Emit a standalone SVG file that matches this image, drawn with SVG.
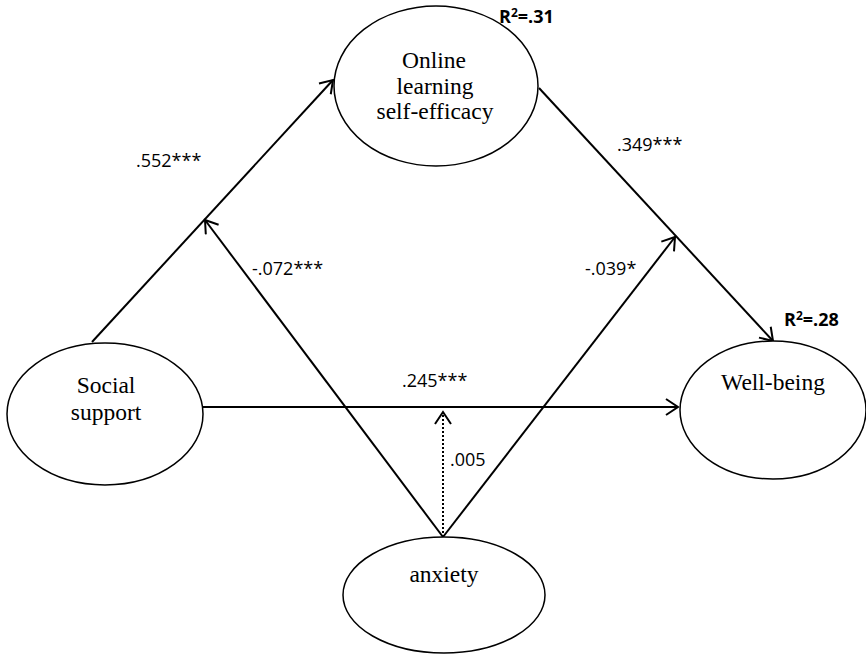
<svg xmlns="http://www.w3.org/2000/svg" width="866" height="656" viewBox="0 0 866 656">
<style>
.node ellipse{fill:#fff;stroke:#000;stroke-width:1.5}
.nt{font-family:"Liberation Serif","Times New Roman",serif;font-size:23.5px;fill:#000;text-anchor:middle}
.lbl{font-family:"Open Sans","Liberation Sans",Arial,sans-serif;font-size:18px;fill:#000}
.r2{font-family:"Open Sans","Liberation Sans",Arial,sans-serif;font-size:18px;font-weight:bold;fill:#000}
.edge{stroke:#000;stroke-width:2;fill:none}
.dot{stroke:#000;stroke-width:2;fill:none;stroke-dasharray:2 2}
</style>
<defs>
<marker id="arr" markerWidth="16" markerHeight="18" refX="13" refY="9" orient="auto" markerUnits="userSpaceOnUse">
<path d="M1,1 L13,9 L1,17" fill="none" stroke="#000" stroke-width="2"/>
</marker>
</defs>
<rect width="866" height="656" fill="#fff"/>
<g id="connectors">
<path class="edge" d="M92,342 L333,80" marker-end="url(#arr)"/>
<path class="edge" d="M539,88 L773,341" marker-end="url(#arr)"/>
<path class="edge" d="M203,407 L678,407" marker-end="url(#arr)"/>
<path class="edge" d="M443,537 L205,220" marker-end="url(#arr)"/>
<path class="edge" d="M443,537 L675,237" marker-end="url(#arr)"/>
<path class="dot" d="M443,537 L443,412" marker-end="url(#arr)"/>
</g>
<g id="online" class="node">
<ellipse cx="436" cy="86" rx="102" ry="80"/>
<text class="nt" x="434" y="68">Online</text>
<text class="nt" x="435" y="94">learning</text>
<text class="nt" x="435" y="119">self-efficacy</text>
</g>
<g id="social" class="node">
<ellipse cx="105" cy="414" rx="98" ry="71"/>
<text class="nt" x="106" y="393">Social</text>
<text class="nt" x="106" y="420">support</text>
</g>
<g id="wellbeing" class="node">
<ellipse cx="773" cy="410" rx="93" ry="69"/>
<text class="nt" x="773" y="390">Well-being</text>
</g>
<g id="anxiety" class="node">
<ellipse cx="444" cy="595" rx="101" ry="58"/>
<text class="nt" x="444" y="582">anxiety</text>
</g>
<g id="labels">
<text class="lbl" x="136" y="167">.552***</text>
<text class="lbl" x="617" y="151">.349***</text>
<text class="lbl" x="252" y="275">-.072***</text>
<text class="lbl" x="585" y="275">-.039*</text>
<text class="lbl" x="402" y="387">.245***</text>
<text class="lbl" x="450" y="466">.005</text>
<text class="r2" x="499" y="23">R<tspan font-size="12" dy="-6">2</tspan><tspan dy="6">=.31</tspan></text>
<text class="r2" x="784" y="326">R<tspan font-size="12" dy="-6">2</tspan><tspan dy="6">=.28</tspan></text>
</g>
</svg>
